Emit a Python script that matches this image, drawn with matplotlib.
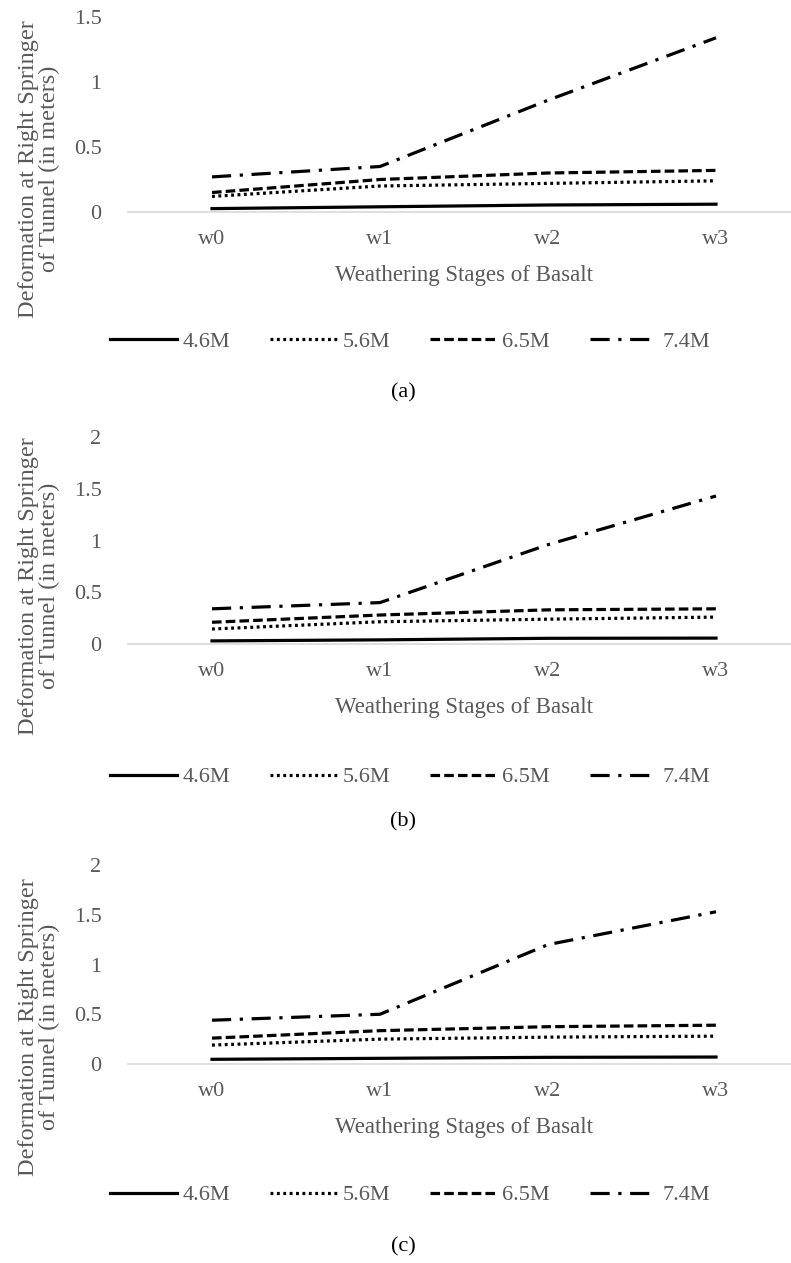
import matplotlib
matplotlib.use("Agg")
import matplotlib.pyplot as plt

# weathering stages on the x axis
stages = ["w0", "w1", "w2", "w3"]
series_names = ["4.6M", "5.6M", "6.5M", "7.4M"]

# deformation values (m)
a_46 = [0.026, 0.04, 0.054, 0.06]
a_56 = [0.12, 0.20, 0.22, 0.24]
a_65 = [0.15, 0.25, 0.30, 0.32]
a_74 = [0.27, 0.35, 0.86, 1.34]

b_46 = [0.03, 0.04, 0.055, 0.057]
b_56 = [0.145, 0.215, 0.24, 0.26]
b_65 = [0.21, 0.28, 0.33, 0.34]
b_74 = [0.34, 0.40, 0.96, 1.43]

c_46 = [0.047, 0.057, 0.067, 0.07]
c_56 = [0.19, 0.25, 0.27, 0.28]
c_65 = [0.26, 0.335, 0.375, 0.39]
c_74 = [0.44, 0.50, 1.20, 1.53]

panels = [
    ("(a)", [a_46, a_56, a_65, a_74], [0, 0.5, 1, 1.5], ["0", "0.5", "1", "1.5"]),
    ("(b)", [b_46, b_56, b_65, b_74], [0, 0.5, 1, 1.5, 2], ["0", "0.5", "1", "1.5", "2"]),
    ("(c)", [c_46, c_56, c_65, c_74], [0, 0.5, 1, 1.5, 2], ["0", "0.5", "1", "1.5", "2"]),
]

W, H = 791, 1263
GREY = "#595959"
SERIF = "Liberation Serif"

# pixel layout of each panel: (axis zero y, axis top y, xtick y, xlabel y, legend y, caption y, ylabel centre y)
layout = [
    (212, 17, 240, 275, 342, 393, 169),
    (644, 437, 673, 708, 777, 822, 586),
    (1064, 865, 1093, 1127, 1195, 1247, 1027),
]

styles = [
    dict(linestyle="-"),
    dict(linestyle=(0, (0.9, 1.1)), dash_capstyle="butt"),
    dict(linestyle=(0, (3.0, 1.3)), dash_capstyle="butt"),
    dict(linestyle=(0, (6, 2.7, 1, 2.7)), dash_capstyle="butt"),
]


def fx(px):
    return px / W


def fy(px):
    return 1 - px / H


fig = plt.figure(figsize=(W / 100, H / 100), dpi=100)
fig.patch.set_facecolor("white")

x = list(range(len(stages)))
ax_left, ax_right = 128, 800

for (cap, data, yt, ytl), (y0, ytop, ytick_y, xlab_y, leg_y, cap_y, ylab_y) in zip(panels, layout):
    ax = fig.add_axes([fx(ax_left), fy(y0), fx(ax_right - ax_left), (y0 - ytop) / H])
    handles = []
    for vals, name, st in zip(data, series_names, styles):
        h, = ax.plot(x, vals, color="black", lw=2.3, label=name, **st)
        handles.append(h)
    ax.set_xlim(-0.5, 3.5)
    ax.set_ylim(0, yt[-1])
    for s in ["top", "right", "left"]:
        ax.spines[s].set_visible(False)
    ax.spines["bottom"].set_color("#d9d9d9")
    ax.spines["bottom"].set_linewidth(1.2)
    ax.set_xticks(x)
    ax.set_xticklabels(stages, family=SERIF, fontsize=16, color=GREY)
    ax.set_yticks(yt)
    ax.set_yticklabels(ytl, family=SERIF, fontsize=16, color=GREY)
    ax.tick_params(axis="x", length=0, pad=13)
    ax.tick_params(axis="y", length=0, pad=19)

    fig.text(fx(464), fy(xlab_y), "Weathering Stages of Basalt", family=SERIF,
             fontsize=16.5, color=GREY, ha="center", va="center")
    fig.text(fx(39), fy(ylab_y), "Deformation at Right Springer\nof Tunnel (in meters)",
             family=SERIF, fontsize=17.5, color=GREY, rotation=90,
             ha="center", va="center", linespacing=1.0, multialignment="center")
    leg = fig.legend(handles=handles, loc="center", bbox_to_anchor=(fx(410), fy(leg_y)),
                     ncol=4, frameon=False, handlelength=3.0, handletextpad=0.25,
                     columnspacing=1.8, prop={"family": SERIF, "size": 16})
    for t in leg.get_texts():
        t.set_color(GREY)
    fig.text(fx(403), fy(cap_y), cap, family=SERIF, fontsize=16, color="black",
             ha="center", va="center")

fig.savefig("out.png", dpi=100, facecolor="white")
